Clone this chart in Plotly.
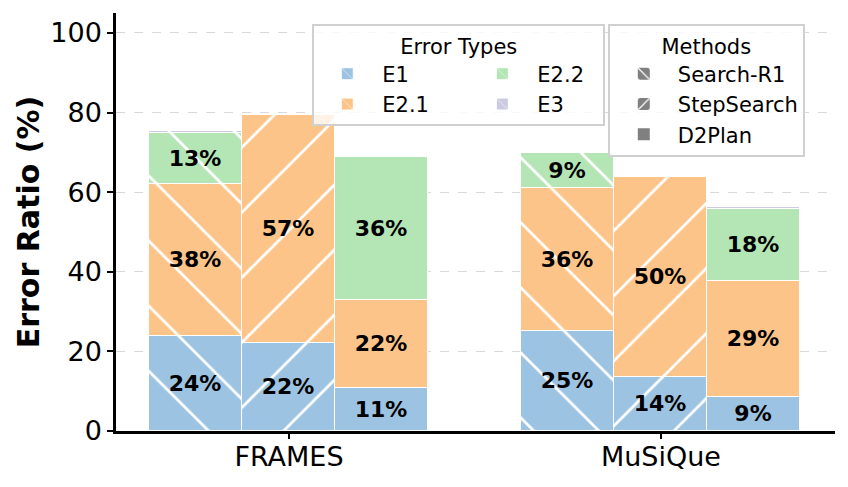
import plotly.graph_objects as go

# data
datasets = ["FRAMES", "MuSiQue"]
methods = ["Search-R1", "StepSearch", "D2Plan"]
error_types = ["E1", "E2.1", "E2.2", "E3"]

# values per error type, order: FRAMES (Search-R1, StepSearch, D2Plan), MuSiQue (same)
e1_vals = [23.9, 22.0, 10.8, 25.2, 13.6, 8.6]
e21_vals = [38.1, 57.3, 22.1, 35.9, 50.1, 29.1]
e22_vals = [12.8, 0.0, 36.0, 8.8, 0.0, 18.1]
e3_vals = [0.5, 0.0, 0.0, 0.0, 0.3, 0.5]

colors = {"E1": "#9dc3e2", "E2.1": "#fdc48a", "E2.2": "#b4e5b4", "E3": "#cccae3"}
hatches = {"Search-R1": "\\", "StepSearch": "/", "D2Plan": ""}

BAR_W = 0.25
x_pos = []
shapes = []
for i, _ in enumerate(datasets):
    for j, m in enumerate(methods):
        x_pos.append(i + (j - 1) * BAR_W)
        shapes.append(hatches[m])

fig = go.Figure()

series = {"E1": e1_vals, "E2.1": e21_vals, "E2.2": e22_vals, "E3": e3_vals}
groups = {"E1": "c1", "E2.1": "c1", "E2.2": "c2", "E3": "c2"}
NB = "\u00a0"
for name, vals in series.items():
    labels = [f"{v:.0f}%" if v >= 3 and name != "E3" else "" for v in vals]
    # pad the legend names so the two columns sit apart like the original
    shown = name + NB * (5 if groups[name] == "c1" else 2)
    fig.add_trace(go.Bar(
        x=x_pos,
        y=vals,
        width=BAR_W,
        name=shown,
        legendgroup=groups[name],
        legend="legend",
        text=labels,
        textposition="inside",
        insidetextanchor="middle",
        textangle=0,
        textfont=dict(family="DejaVu Sans", size=22, color="black", weight="bold"),
        marker=dict(
            color=colors[name],
            line=dict(color="white", width=1),
            pattern=dict(shape=shapes, fgcolor="white", fgopacity=1, fillmode="overlay",
                         size=46, solidity=0.06),
        ),
        hoverinfo="skip",
    ))

# dummy entries for the methods legend
for m in methods:
    fig.add_trace(go.Bar(
        x=[None], y=[None],
        name=m,
        legend="legend2",
        marker=dict(
            color="#808080",
            line=dict(color="white", width=0),
            pattern=dict(shape=hatches[m], fgcolor="white", fgopacity=1, fillmode="overlay",
                         size=12, solidity=0.15),
        ),
    ))

# page body adds an 8px offset, margins below compensate for it
fig.update_layout(
    width=848,
    height=487,
    barmode="stack",
    bargap=0,
    plot_bgcolor="white",
    paper_bgcolor="white",
    margin=dict(l=108, r=21, t=5, b=64),
    font=dict(family="DejaVu Sans", color="black"),
    legend=dict(
        title=dict(text="Error Types", side="top center", font=dict(size=21)),
        orientation="h",
        traceorder="grouped",
        x=0.273, y=0.973, xanchor="left", yanchor="top",
        font=dict(size=21),
        bgcolor="rgba(255,255,255,0.8)",
        bordercolor="#d0d0d0",
        borderwidth=2,
        itemwidth=60,
    ),
    legend2=dict(
        title=dict(text="Methods", side="top center", font=dict(size=21)),
        orientation="v",
        traceorder="normal",
        x=0.684, y=0.973, xanchor="left", yanchor="top",
        font=dict(size=21),
        bgcolor="rgba(255,255,255,0.8)",
        bordercolor="#d0d0d0",
        borderwidth=2,
        itemwidth=58,
    ),
    xaxis=dict(
        range=[-0.465, 1.468],
        tickvals=[0, 1],
        ticktext=datasets,
        tickfont=dict(size=27),
        ticks="outside",
        ticklen=5,
        tickwidth=1.5,
        tickcolor="black",
        ticklabelstandoff=-5,
        showline=True,
        linecolor="black",
        linewidth=2.5,
        showgrid=False,
        zeroline=False,
        automargin=False,
    ),
    yaxis=dict(
        range=[0, 105],
        tickvals=[0, 20, 40, 60, 80, 100],
        tickfont=dict(size=27),
        ticks="outside",
        ticklen=6,
        tickwidth=1.5,
        tickcolor="black",
        showline=True,
        linecolor="black",
        linewidth=2.5,
        showgrid=True,
        gridcolor="#d9d9d9",
        griddash="dash",
        gridwidth=1,
        zeroline=False,
        automargin=False,
        title=dict(text="<b>Error Ratio (%)</b>", font=dict(size=30), standoff=2),
    ),
)

fig.write_html("out.html")
